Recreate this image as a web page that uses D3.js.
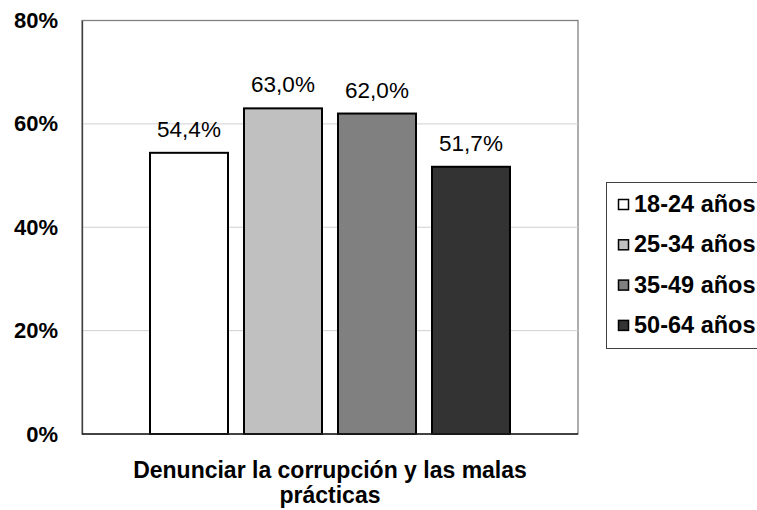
<!DOCTYPE html>
<html>
<head>
<meta charset="utf-8">
<script src="https://cdn.jsdelivr.net/npm/d3@7"></script>
<style>
  html, body { margin: 0; padding: 0; background: #fff; }
  svg { display: block; font-family: "Liberation Sans", Arial, sans-serif; }
</style>
</head>
<body>
<svg id="chart" width="757" height="510"></svg>
<script>
// Survey share by age group
const groups = ["18-24 años", "25-34 años", "35-49 años", "50-64 años"];
const values = [54.4, 63.0, 62.0, 51.7];
const fills = ["#ffffff", "#c0c0c0", "#808080", "#333333"];
const yTicks = [0, 20, 40, 60, 80];
const categoryLines = ["Denunciar la corrupción y las malas", "prácticas"];

const svg = d3.select("#chart");
const plot = { left: 82, right: 578, top: 20.5, bottom: 434 };

const y = d3.scaleLinear().domain([0, 80]).range([plot.bottom, plot.top]);
const x = d3.scaleBand().domain(groups).range([150, 510]).paddingInner(16 / 94).paddingOuter(0);

// plot area border
svg.append("rect")
  .attr("x", plot.left).attr("y", plot.top)
  .attr("width", plot.right - plot.left).attr("height", plot.bottom - plot.top)
  .attr("fill", "#fff").attr("stroke", "#808080").attr("stroke-width", 1.3);

// horizontal gridlines
svg.append("g").selectAll("line")
  .data(yTicks.filter(t => t > 0 && t < 80))
  .join("line")
  .attr("x1", plot.left).attr("x2", plot.right)
  .attr("y1", d => y(d)).attr("y2", d => y(d))
  .attr("stroke", "#d0d0d0").attr("stroke-width", 1);

// y axis
const yAxis = d3.axisLeft(y).tickValues(yTicks).tickSize(0).tickPadding(24)
  .tickFormat(d => d + "%");
const gy = svg.append("g").attr("transform", `translate(${plot.left},0)`).call(yAxis);
gy.select(".domain").attr("stroke", "#404040").attr("stroke-width", 1.3);
gy.selectAll("text")
  .attr("font-family", "Liberation Sans, Arial, sans-serif")
  .attr("font-size", 22).attr("font-weight", "bold").attr("fill", "#000");

// bars
svg.append("g").selectAll("rect")
  .data(groups)
  .join("rect")
  .attr("x", d => x(d))
  .attr("y", (d, i) => y(values[i]))
  .attr("width", x.bandwidth())
  .attr("height", (d, i) => y(0) - y(values[i]))
  .attr("fill", (d, i) => fills[i])
  .attr("stroke", "#000").attr("stroke-width", 2);

// value labels
svg.append("g").selectAll("text")
  .data(groups)
  .join("text")
  .attr("x", d => x(d) + x.bandwidth() / 2)
  .attr("y", (d, i) => y(values[i]) - 16)
  .attr("text-anchor", "middle")
  .attr("font-size", 22.5).attr("fill", "#000")
  .text((d, i) => values[i].toFixed(1).replace(".", ",") + "%");

// x axis baseline
svg.append("line")
  .attr("x1", plot.left).attr("x2", plot.right)
  .attr("y1", plot.bottom).attr("y2", plot.bottom)
  .attr("stroke", "#202020").attr("stroke-width", 1.5);

// category label
svg.append("text")
  .attr("x", (plot.left + plot.right) / 2).attr("y", 478)
  .attr("text-anchor", "middle")
  .attr("font-size", 23).attr("font-weight", "bold")
  .selectAll("tspan")
  .data(categoryLines)
  .join("tspan")
  .attr("x", (plot.left + plot.right) / 2)
  .attr("dy", (d, i) => i === 0 ? 0 : 25)
  .text(d => d);

// legend
const legend = svg.append("g");
legend.append("rect")
  .attr("x", 606.5).attr("y", 182.5).attr("width", 160).attr("height", 166)
  .attr("fill", "#fff").attr("stroke", "#404040").attr("stroke-width", 1);
const item = legend.selectAll("g.item")
  .data(groups)
  .join("g").attr("class", "item")
  .attr("transform", (d, i) => `translate(0, ${212 + i * 40.3})`);
item.append("rect")
  .attr("x", 618.5).attr("y", -12.5).attr("width", 10).attr("height", 10)
  .attr("fill", (d, i) => fills[i]).attr("stroke", "#000").attr("stroke-width", 1.5);
item.append("text")
  .attr("x", 634).attr("y", 0)
  .attr("font-size", 23.5).attr("font-weight", "bold")
  .text(d => d);
</script>
</body>
</html>
